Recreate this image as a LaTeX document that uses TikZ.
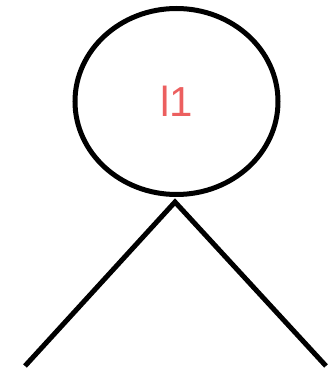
\documentclass[tikz,border=0pt]{standalone}
\usepackage{fontspec}
\setmainfont{Liberation Sans}
\usetikzlibrary{positioning,shapes.geometric}
\definecolor{coral}{HTML}{EC5F5F}

\begin{document}
\begin{tikzpicture}[
  x=1pt, y=1pt,
  vertex/.style={ellipse, draw, line width=5pt, minimum width=203pt,
                 minimum height=186pt, inner sep=0pt,
                 font=\fontsize{42}{42}\selectfont, text=coral},
  edge/.style={line width=5pt, miter limit=10},
]
\useasboundingbox (0,0) rectangle (327,375);

\node[vertex] (l1) at (176.5,273.5) {l1};

\coordinate (fork) at (175,173);
\coordinate (leafL) at (25,9);
\coordinate (leafR) at (326,9);

\draw[edge] (leafL) -- (fork) -- (leafR);

\end{tikzpicture}
\end{document}
